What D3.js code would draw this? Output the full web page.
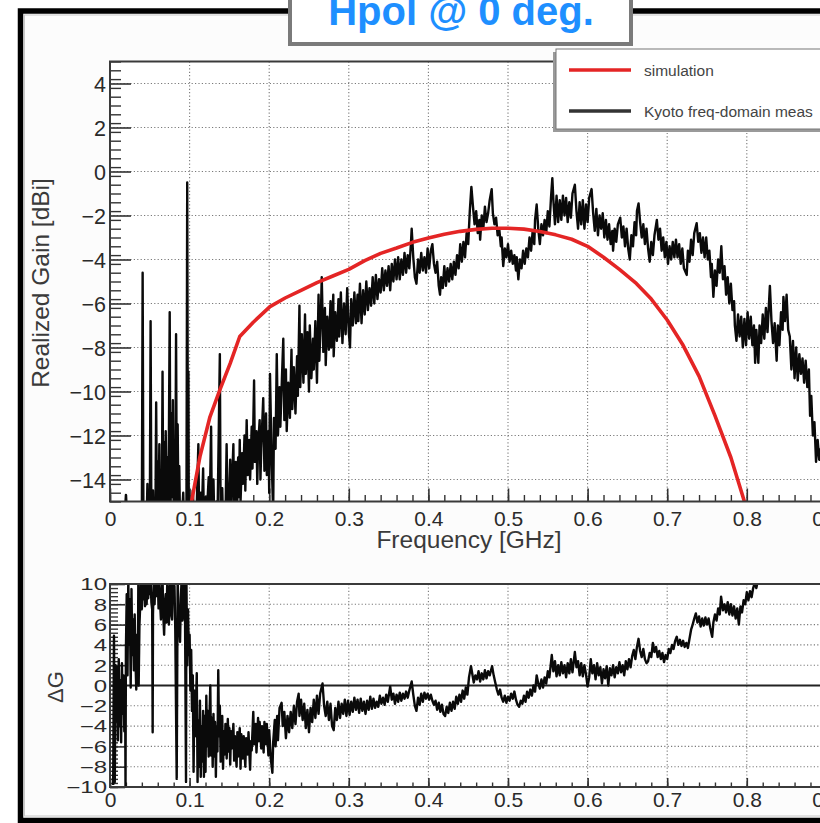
<!DOCTYPE html>
<html><head><meta charset="utf-8">
<script src="https://cdn.jsdelivr.net/npm/d3@7"></script>
<style>
body{margin:0;background:#fff}
svg{display:block}
text{font-family:"Liberation Sans",Arial,sans-serif}
</style>
</head><body>
<svg id="c" width="820" height="823"></svg>
<script>
// ---------------- data ----------------
const titleText = "Hpol @ 0 deg.";
const seriesNames = ["simulation", "Kyoto freq-domain meas"];
const xLabel = "Frequency [GHz]";
const yTopLabel = "Realized Gain [dBi]";
const yBotLabel = "ΔG";
const xTickValues = [0, 0.1, 0.2, 0.3, 0.4, 0.5, 0.6, 0.7, 0.8, 0.9, 1.0];
const yTopTickValues = [-14, -12, -10, -8, -6, -4, -2, 0, 2, 4];
const yBotTickValues = [-10, -8, -6, -4, -2, 0, 2, 4, 6, 8, 10];

// simulation [GHz, dBi]
const simulation = [
[0.1025,-15],[0.113,-12.96],[0.1256,-11.15],[0.138,-9.93],[0.151,-8.72],[0.163,-7.5],[0.18,-6.85],
[0.201,-6.14],[0.22,-5.75],[0.24,-5.4],[0.26,-5.05],[0.28,-4.75],[0.30,-4.45],[0.32,-4.05],[0.34,-3.72],
[0.36,-3.48],[0.38,-3.22],[0.40,-3.02],[0.42,-2.85],[0.44,-2.72],[0.46,-2.63],[0.48,-2.58],[0.50,-2.58],
[0.52,-2.62],[0.54,-2.73],[0.56,-2.88],[0.58,-3.08],[0.60,-3.4],[0.62,-3.9],[0.64,-4.45],[0.66,-5.05],
[0.68,-5.8],[0.70,-6.75],[0.72,-7.9],[0.74,-9.3],[0.76,-11.1],[0.78,-13.0],[0.797,-15],[0.80,-15.5]
];

// Kyoto freq-domain measurement [GHz, dBi]
const measured = [
[0.000,-16],[0.018,-16],[0.020,-14.7],[0.022,-16],
[0.040,-16],[0.041,-4.6],[0.042,-16],[0.046,-16],[0.047,-14.2],[0.048,-16],
[0.050,-16],[0.051,-6.8],[0.052,-16],[0.054,-14.5],[0.055,-16],[0.057,-16],[0.058,-10.5],[0.059,-16],
[0.060,-13.2],[0.061,-15.5],[0.062,-12.4],[0.063,-16],[0.064,-13.6],[0.065,-16],[0.066,-9.1],[0.067,-16],
[0.068,-12.3],[0.069,-15.2],[0.070,-11.8],[0.071,-16],[0.072,-13.0],[0.073,-15.5],[0.074,-12.0],[0.075,-6.4],
[0.076,-16],[0.077,-11.0],[0.078,-14.8],[0.079,-10.4],[0.080,-15.6],[0.081,-12.2],[0.082,-15.0],[0.083,-7.4],
[0.084,-16],[0.085,-11.5],[0.086,-15.5],[0.087,-13.4],[0.088,-16],[0.090,-16],[0.092,-14.6],[0.093,-16],
[0.096,-16],[0.097,-0.5],[0.098,-16],[0.0985,-9.1],[0.099,-16],
[0.102,-16],[0.104,-14.5],[0.106,-16],[0.109,-15.2],[0.111,-12.4],[0.112,-16],[0.114,-14.6],[0.115,-16],
[0.117,-13.5],[0.118,-16],[0.120,-14.8],[0.121,-16],[0.124,-13.9],[0.125,-16],[0.127,-11.6],[0.128,-16],
[0.130,-14.0],[0.131,-16],[0.134,-15.0],[0.135,-16],[0.138,-8.3],[0.139,-16],[0.141,-14.4],[0.142,-16],
[0.144,-15.2],[0.145,-16],[0.1465,-12.4],[0.148,-16],[0.150,-14.5],[0.151,-13.1],[0.152,-15.5],[0.155,-12.4],
[0.156,-15.8],[0.158,-13.2],[0.159,-15.3],[0.161,-13.0],[0.162,-14.8],[0.163,-12.2],[0.164,-15.0],[0.166,-12.8],
[0.167,-14.2],[0.169,-12.0],[0.170,-14.5],[0.1717,-11.3],[0.173,-13.8],[0.175,-12.2],[0.176,-14.0],[0.178,-11.6],
[0.179,-13.5],[0.181,-9.5],[0.182,-13.2],[0.184,-11.8],[0.185,-14.2],[0.186,-12.5],[0.188,-11.3],[0.189,-14.0],
[0.190,-12.6],[0.1925,-10.3],[0.194,-13.6],[0.196,-11.0],[0.197,-13.8],[0.199,-11.8],[0.200,-14.6],[0.201,-9.2],
[0.203,-13.0],[0.205,-15.5],[0.206,-11.2],[0.208,-12.6],[0.2095,-8.3],[0.211,-12.0],[0.213,-9.8],[0.214,-11.6],
[0.216,-9.4],[0.2177,-7.6],[0.219,-11.3],[0.221,-9.0],[0.222,-11.8],[0.224,-9.6],[0.226,-11.2],[0.228,-8.1],
[0.229,-10.8],[0.231,-8.9],[0.233,-11.0],[0.235,-8.4],[0.236,-10.2],[0.238,-6.1],[0.239,-9.8],[0.241,-7.4],
[0.243,-9.6],[0.245,-6.5],[0.246,-9.2],[0.248,-7.3],[0.250,-10.0],[0.251,-7.0],[0.253,-9.4],[0.255,-7.6],
[0.256,-9.0],[0.258,-6.8],[0.260,-9.6],[0.262,-5.6],[0.263,-8.6],[0.265,-6.4],[0.266,-4.8],[0.268,-8.2],
[0.270,-6.2],[0.271,-8.8],[0.273,-6.6],[0.275,-8.1],[0.277,-5.9],[0.278,-8.0],[0.2805,-5.6],[0.281,-8.4],
[0.283,-6.4],[0.285,-7.7],[0.287,-5.8],[0.288,-7.5],[0.290,-5.5],[0.292,-7.8],[0.294,-6.0],[0.296,-7.4],
[0.298,-5.3],[0.300,-7.3],[0.3015,-8.0],[0.303,-5.8],[0.305,-7.0],[0.307,-5.5],[0.309,-6.9],[0.311,-5.6],
[0.312,-6.8],[0.314,-5.1],[0.316,-6.9],[0.318,-5.4],[0.320,-6.5],[0.322,-5.0],[0.324,-6.3],[0.326,-5.3],
[0.328,-6.1],[0.330,-4.8],[0.332,-6.0],[0.334,-4.7],[0.336,-5.8],[0.338,-4.9],[0.340,-5.5],[0.342,-4.4],
[0.344,-5.4],[0.346,-4.5],[0.348,-5.2],[0.350,-4.3],[0.352,-5.4],[0.354,-4.2],[0.356,-5.0],[0.358,-4.0],
[0.360,-4.9],[0.362,-3.9],[0.364,-4.9],[0.366,-4.0],[0.368,-4.7],[0.370,-3.7],[0.372,-4.6],[0.374,-3.8],
[0.376,-4.4],[0.378,-3.3],[0.379,-2.6],[0.381,-3.9],[0.383,-4.8],[0.385,-5.1],[0.387,-4.0],[0.389,-4.6],
[0.391,-3.7],[0.393,-4.5],[0.395,-3.9],[0.397,-4.6],[0.399,-3.5],[0.401,-4.4],[0.403,-3.6],[0.405,-3.3],
[0.407,-4.2],[0.409,-4.6],[0.411,-4.1],[0.413,-5.2],[0.4146,-5.6],[0.416,-4.8],[0.418,-5.3],[0.420,-4.3],
[0.422,-5.2],[0.424,-4.4],[0.426,-5.0],[0.428,-4.2],[0.430,-4.9],[0.432,-4.1],[0.434,-4.7],[0.436,-3.8],
[0.438,-4.4],[0.440,-3.3],[0.442,-4.1],[0.444,-3.2],[0.446,-3.9],[0.448,-2.8],[0.450,-3.3],[0.452,-1.8],
[0.454,-0.7],[0.456,-1.6],[0.458,-2.4],[0.460,-1.8],[0.462,-2.8],[0.464,-2.2],[0.465,-3.1],[0.467,-2.0],
[0.469,-2.6],[0.471,-1.6],[0.473,-2.3],[0.475,-1.9],[0.477,-1.3],[0.4795,-0.8],[0.481,-1.9],[0.483,-2.4],
[0.485,-2.1],[0.487,-2.9],[0.489,-2.6],[0.491,-3.4],[0.492,-3.0],[0.494,-4.3],[0.496,-3.5],[0.498,-3.9],
[0.500,-3.3],[0.502,-4.1],[0.504,-3.6],[0.506,-4.2],[0.508,-3.8],[0.510,-4.5],[0.511,-3.9],[0.513,-4.9],
[0.515,-4.0],[0.517,-4.4],[0.519,-3.6],[0.521,-4.2],[0.523,-3.5],[0.525,-3.9],[0.527,-3.0],[0.529,-3.6],
[0.531,-2.7],[0.533,-3.3],[0.534,-2.2],[0.536,-1.5],[0.538,-2.6],[0.540,-3.3],[0.542,-2.4],[0.544,-2.9],
[0.546,-2.2],[0.548,-2.8],[0.550,-1.8],[0.552,-2.5],[0.554,-1.2],[0.5557,-0.3],[0.557,-1.3],[0.559,-2.4],
[0.561,-1.1],[0.563,-2.3],[0.565,-1.3],[0.567,-2.2],[0.569,-1.1],[0.571,-2.0],[0.573,-1.2],[0.575,-2.3],
[0.577,-1.4],[0.579,-2.1],[0.581,-1.0],[0.584,-0.6],[0.586,-1.8],[0.588,-2.6],[0.590,-1.4],[0.592,-2.4],
[0.594,-1.3],[0.596,-2.6],[0.598,-1.5],[0.600,-2.3],[0.602,-1.2],[0.605,-0.8],[0.607,-1.9],[0.609,-2.7],
[0.611,-1.7],[0.613,-2.9],[0.615,-2.0],[0.617,-2.6],[0.619,-1.9],[0.621,-3.0],[0.623,-2.2],[0.625,-3.1],
[0.627,-2.4],[0.629,-3.3],[0.631,-2.7],[0.632,-3.6],[0.634,-2.6],[0.636,-3.2],[0.638,-2.4],[0.641,-2.1],
[0.643,-3.0],[0.645,-2.5],[0.647,-3.4],[0.649,-2.6],[0.651,-3.5],[0.653,-4.0],[0.655,-2.9],[0.657,-3.4],
[0.659,-2.3],[0.661,-2.9],[0.662,-1.8],[0.664,-1.45],[0.666,-2.3],[0.668,-3.0],[0.670,-2.4],[0.672,-3.3],
[0.674,-2.6],[0.676,-3.5],[0.678,-4.1],[0.680,-3.2],[0.682,-3.8],[0.684,-2.9],[0.687,-2.2],[0.689,-3.1],
[0.691,-2.6],[0.693,-3.6],[0.695,-3.0],[0.697,-3.9],[0.699,-3.2],[0.701,-4.2],[0.703,-3.4],[0.705,-4.0],
[0.707,-3.2],[0.709,-3.9],[0.711,-3.1],[0.713,-3.9],[0.715,-3.3],[0.717,-4.2],[0.719,-3.5],[0.721,-4.4],
[0.7245,-4.7],[0.726,-3.6],[0.728,-4.1],[0.730,-3.1],[0.732,-3.8],[0.734,-2.8],[0.737,-2.35],[0.739,-3.2],
[0.741,-2.8],[0.743,-3.7],[0.745,-3.0],[0.747,-3.9],[0.749,-3.0],[0.751,-4.0],[0.753,-3.6],[0.755,-4.8],
[0.756,-4.2],[0.758,-5.7],[0.760,-4.5],[0.762,-5.2],[0.764,-4.0],[0.766,-4.6],[0.768,-3.4],[0.770,-4.9],
[0.772,-4.3],[0.774,-5.6],[0.776,-4.8],[0.778,-6.0],[0.780,-5.1],[0.782,-6.3],[0.784,-5.9],[0.785,-7.0],
[0.787,-7.7],[0.789,-6.5],[0.791,-7.5],[0.793,-6.6],[0.795,-8.0],[0.797,-6.7],[0.799,-7.9],[0.801,-6.4],
[0.803,-7.6],[0.805,-6.6],[0.807,-7.9],[0.809,-7.0],[0.8105,-8.7],[0.812,-7.2],[0.8145,-8.7],[0.816,-7.0],
[0.818,-7.8],[0.820,-6.5],[0.822,-7.6],[0.824,-6.2],[0.826,-7.3],[0.829,-5.2],[0.831,-6.8],[0.833,-7.8],
[0.835,-6.9],[0.8375,-8.6],[0.839,-7.0],[0.841,-7.9],[0.843,-6.4],[0.845,-7.2],[0.846,-5.7],[0.848,-6.8],
[0.850,-5.6],[0.852,-7.2],[0.854,-7.5],[0.856,-9.0],[0.858,-7.7],[0.860,-9.4],[0.862,-8.0],[0.864,-9.5],
[0.866,-8.3],[0.868,-9.2],[0.870,-8.5],[0.872,-9.6],[0.874,-8.6],[0.876,-9.8],[0.878,-9.0],[0.8795,-11.1],
[0.881,-10.2],[0.883,-12.0],[0.885,-11.4],[0.887,-13.2],[0.889,-12.2],[0.891,-13.1],[0.893,-12.6],[0.900,-13.5]
];

// ΔG = measurement - simulation [GHz, dB]
const deltaG = [
[0.004,-9.8],[0.005,4.9],[0.006,-9.5],[0.007,2.0],[0.008,-3.5],[0.009,1.8],[0.010,-5.4],[0.011,2.6],
[0.012,-4.0],[0.013,0.5],[0.014,-5.6],[0.015,2.2],[0.016,-2.8],[0.017,1.0],[0.018,-4.5],[0.019,-0.3],
[0.0195,-10],[0.020,3.5],[0.021,9.0],[0.022,1.0],[0.023,10.5],[0.024,4.0],[0.025,8.5],[0.026,-0.2],
[0.027,9.5],[0.028,3.0],[0.029,6.5],[0.030,1.5],[0.031,7.0],[0.032,2.5],[0.033,-0.4],[0.034,5.0],
[0.035,1.0],[0.0356,10.5],[0.036,0.0],[0.037,6.0],[0.038,8.0],[0.039,10.5],[0.040,7.5],[0.041,10.5],
[0.042,8.5],[0.043,10.5],[0.044,7.8],[0.045,10.5],[0.046,8.0],[0.047,10.5],[0.048,8.6],[0.049,10.5],
[0.050,9.0],[0.051,10.5],[0.052,8.2],[0.053,7.5],[0.0536,-4.6],[0.054,7.0],[0.055,10.5],
[0.056,8.0],[0.057,10.5],[0.058,8.8],[0.059,9.5],[0.060,10.5],[0.061,7.6],[0.062,10.5],[0.063,8.0],
[0.064,6.5],[0.065,9.0],[0.066,10.5],[0.067,6.8],[0.068,5.0],[0.069,8.0],[0.070,9.0],[0.071,6.2],
[0.072,10.5],[0.073,7.8],[0.074,6.0],[0.075,9.4],[0.076,10.5],[0.077,7.0],[0.078,6.5],[0.079,10.5],
[0.080,8.5],[0.081,9.8],[0.082,5.5],[0.0838,-9.2],[0.085,10.5],[0.086,7.4],[0.087,6.0],[0.088,4.3],
[0.089,8.6],[0.090,10.5],[0.091,6.4],[0.092,7.0],[0.093,9.8],[0.094,10.5],[0.0955,-9.5],[0.096,10.5],
[0.097,2.0],[0.098,7.5],[0.099,3.0],[0.100,5.0],[0.101,-0.5],[0.102,3.5],[0.103,-2.5],[0.104,1.0],
[0.105,-8.5],[0.106,-0.5],[0.107,-5.0],[0.108,-2.0],[0.109,1.2],[0.110,-9.5],[0.111,-3.5],[0.112,-8.0],
[0.113,-1.5],[0.114,-9.0],[0.115,-4.0],[0.116,-7.5],[0.117,-2.5],[0.118,-9.0],[0.119,-3.0],[0.120,-8.5],
[0.121,-1.0],[0.122,-6.0],[0.123,-2.5],[0.124,-7.0],[0.125,-3.0],[0.126,0.0],[0.127,-6.9],[0.128,-3.2],
[0.129,-8.0],[0.130,-2.8],[0.131,-7.0],[0.132,-3.6],[0.133,-9.0],[0.134,-4.0],[0.135,-6.5],[0.136,1.5],
[0.137,-5.0],[0.138,-2.0],[0.139,-7.5],[0.140,-5.7],[0.141,-3.0],[0.142,-8.2],[0.143,-4.5],[0.144,-6.8],
[0.145,-3.8],[0.1466,-7.2],[0.148,-3.3],[0.149,-6.5],[0.150,-4.2],[0.151,-7.8],[0.152,-4.5],[0.153,-6.2],
[0.155,-3.8],[0.156,-7.4],[0.157,-5.0],[0.159,-8.0],[0.160,-4.6],[0.161,-7.0],[0.163,-4.2],[0.164,-8.2],
[0.165,-4.8],[0.167,-7.2],[0.168,-5.0],[0.170,-8.0],[0.171,-5.2],[0.173,-6.8],[0.174,-4.6],[0.176,-8.3],
[0.177,-5.5],[0.178,-6.4],[0.180,-2.6],[0.181,-5.8],[0.183,-3.8],[0.184,-6.6],[0.186,-3.2],[0.187,-5.5],
[0.188,-3.6],[0.190,-6.2],[0.191,-4.0],[0.193,-6.6],[0.194,-3.6],[0.196,-5.8],[0.197,-3.8],[0.199,-6.9],
[0.200,-4.4],[0.202,-7.2],[0.204,-8.6],[0.205,-5.6],[0.207,-3.4],[0.208,-6.0],[0.210,-3.0],[0.211,-5.4],
[0.213,-2.2],[0.2156,-1.7],[0.217,-4.0],[0.219,-2.6],[0.221,-5.2],[0.223,-3.0],[0.225,-4.6],[0.227,-2.6],
[0.229,-4.2],[0.231,-2.0],[0.233,-3.8],[0.235,-1.6],[0.237,-0.8],[0.238,-3.0],[0.240,-1.4],[0.242,-3.4],
[0.244,-1.8],[0.246,-4.2],[0.248,-2.4],[0.250,-4.6],[0.252,-2.2],[0.254,-3.6],[0.256,-1.4],[0.258,-3.2],
[0.260,-1.0],[0.262,-2.8],[0.264,-0.8],[0.267,0.2],[0.269,-2.0],[0.271,-3.0],[0.273,-1.6],[0.275,-3.4],
[0.277,-1.8],[0.279,-4.0],[0.281,-4.4],[0.283,-2.2],[0.285,-3.4],[0.287,-1.6],[0.289,-3.2],[0.291,-1.8],
[0.293,-2.8],[0.295,-1.4],[0.297,-3.0],[0.299,-1.5],[0.301,-2.9],[0.303,-1.6],[0.305,-2.6],[0.307,-1.2],
[0.309,-2.4],[0.311,-1.4],[0.313,-2.7],[0.315,-1.3],[0.317,-2.5],[0.319,-1.6],[0.321,-2.8],[0.323,-1.5],
[0.325,-2.4],[0.327,-1.1],[0.329,-2.3],[0.331,-1.3],[0.333,-2.2],[0.335,-1.6],[0.337,-2.1],[0.339,-1.0],
[0.341,-1.8],[0.343,-1.2],[0.345,-1.9],[0.347,-0.9],[0.349,-1.6],[0.352,-0.1],[0.354,-1.4],[0.356,-0.8],
[0.358,-1.8],[0.360,-0.9],[0.362,-1.6],[0.364,-0.7],[0.366,-1.5],[0.368,-0.8],[0.370,-1.3],[0.372,-0.6],
[0.374,-1.2],[0.376,-0.5],[0.379,0.4],[0.381,-0.9],[0.383,-2.0],[0.385,-2.5],[0.387,-1.2],[0.389,-1.9],
[0.391,-0.8],[0.393,-1.6],[0.395,-0.7],[0.397,-1.3],[0.399,-0.8],[0.401,-1.4],[0.403,-0.9],[0.405,-1.5],
[0.407,-1.9],[0.409,-1.5],[0.411,-2.4],[0.413,-1.7],[0.415,-2.6],[0.417,-1.9],[0.419,-2.8],[0.421,-3.0],
[0.423,-2.1],[0.425,-2.7],[0.427,-1.7],[0.429,-2.5],[0.431,-1.6],[0.433,-2.3],[0.435,-1.1],[0.437,-1.8],
[0.439,-0.9],[0.441,-1.6],[0.443,-0.5],[0.445,-1.3],[0.447,-0.2],[0.449,-0.9],[0.451,0.8],[0.4535,1.9],
[0.455,1.2],[0.457,0.3],[0.459,1.0],[0.461,0.6],[0.463,1.4],[0.465,0.4],[0.467,1.2],[0.469,0.6],
[0.471,1.5],[0.473,0.7],[0.475,1.4],[0.477,1.0],[0.480,1.9],[0.482,1.0],[0.484,0.3],[0.486,-0.4],
[0.488,-0.9],[0.490,-0.4],[0.492,-1.2],[0.494,-1.6],[0.496,-1.0],[0.498,-1.7],[0.500,-1.1],[0.502,-1.5],
[0.504,-0.8],[0.506,-1.3],[0.508,-0.6],[0.510,-1.4],[0.512,-1.9],[0.514,-2.1],[0.516,-1.5],[0.518,-1.8],
[0.520,-1.0],[0.522,-1.6],[0.524,-0.6],[0.526,-1.2],[0.528,-0.4],[0.530,-1.0],[0.532,0.0],[0.534,-0.6],
[0.536,1.0],[0.538,0.2],[0.540,-0.3],[0.542,0.6],[0.544,-0.2],[0.546,0.8],[0.548,0.2],[0.550,1.4],
[0.552,0.8],[0.555,3.0],[0.557,1.4],[0.559,2.4],[0.561,0.9],[0.563,2.0],[0.565,1.0],[0.567,2.3],
[0.569,1.2],[0.571,2.0],[0.573,0.8],[0.575,2.2],[0.577,1.2],[0.579,2.6],[0.581,1.3],[0.584,3.3],
[0.586,1.8],[0.588,2.4],[0.590,1.0],[0.592,2.2],[0.594,0.9],[0.596,2.0],[0.598,1.1],[0.600,-0.1],
[0.602,0.8],[0.604,2.6],[0.606,1.2],[0.608,2.0],[0.610,0.6],[0.612,2.2],[0.614,1.0],[0.616,1.8],
[0.618,0.2],[0.620,1.6],[0.622,0.7],[0.624,1.9],[0.626,0.0],[0.628,1.7],[0.630,1.0],[0.632,2.0],
[0.634,0.8],[0.636,1.8],[0.638,1.2],[0.640,2.3],[0.642,1.3],[0.644,2.0],[0.646,1.0],[0.648,2.4],
[0.650,1.6],[0.652,2.6],[0.654,1.8],[0.656,2.9],[0.658,3.5],[0.660,2.6],[0.662,3.8],[0.664,4.6],
[0.666,3.4],[0.668,2.8],[0.670,3.6],[0.672,2.6],[0.674,2.2],[0.676,2.4],[0.678,3.2],[0.680,2.8],
[0.682,4.2],[0.684,3.3],[0.686,3.8],[0.688,2.8],[0.690,3.4],[0.692,2.6],[0.694,3.2],[0.696,2.3],
[0.698,3.0],[0.700,2.6],[0.702,3.6],[0.704,3.2],[0.706,4.0],[0.708,3.6],[0.710,4.4],[0.712,4.8],
[0.714,4.0],[0.716,4.5],[0.718,3.9],[0.720,4.4],[0.722,3.8],[0.724,4.2],[0.726,3.7],[0.728,4.6],
[0.730,5.5],[0.732,6.0],[0.734,6.6],[0.736,7.1],[0.738,6.2],[0.740,6.8],[0.742,5.8],[0.744,6.6],
[0.746,5.9],[0.748,6.7],[0.750,6.0],[0.752,6.6],[0.754,5.7],[0.7565,4.8],[0.758,6.2],[0.760,7.0],
[0.762,6.4],[0.764,7.6],[0.766,7.0],[0.7677,8.75],[0.770,7.4],[0.772,8.0],[0.774,7.2],[0.776,8.2],
[0.778,7.0],[0.780,8.0],[0.782,6.9],[0.784,7.8],[0.786,6.6],[0.788,7.6],[0.790,6.0],[0.792,7.8],
[0.794,7.2],[0.796,8.4],[0.798,8.0],[0.800,9.2],[0.802,8.4],[0.804,9.3],[0.806,8.7],[0.808,9.6],
[0.810,10.1],[0.812,9.6],[0.814,10.4],[0.820,11],[0.900,11]
];

// ---------------- drawing ----------------
const svg = d3.select("#c");
const W = 820, H = 823;
const fmt = v => d3.format("~g")(v).replace("-", "\u2212");

const x = d3.scaleLinear().domain([0, 1]).range([110, 906]);
const yT = d3.scaleLinear().domain([-15, 5]).range([501.5, 61.5]);
const yB = d3.scaleLinear().domain([-10, 10]).range([787, 584]);

// page background + outer frame
svg.append("rect").attr("width", W).attr("height", H).attr("fill", "#fff");
svg.append("rect").attr("x", 20.5).attr("y", 11).attr("width", 830).attr("height", 809.5)
  .attr("fill", "#fcfcfc").attr("stroke", "#000").attr("stroke-width", 5.5);
svg.append("rect").attr("x", 24.5).attr("y", 15).attr("width", 830).attr("height", 801)
  .attr("fill", "none").attr("stroke", "#c8c8c8").attr("stroke-width", 1);

const defs = svg.append("defs");
defs.append("clipPath").attr("id", "clipT").append("rect")
  .attr("x", 110).attr("y", 61.5).attr("width", 796).attr("height", 440);
defs.append("clipPath").attr("id", "clipB").append("rect")
  .attr("x", 110).attr("y", 584).attr("width", 796).attr("height", 203);

function panel(y, yTicks, minorStep, majLenY, minLenY, majLenX, minLenX, gridY) {
  const g = svg.append("g");
  g.append("rect").attr("x", 110).attr("y", y.range()[1]).attr("width", 796)
    .attr("height", y.range()[0] - y.range()[1]).attr("fill", "#fff");
  const grid = g.append("g").attr("stroke", "#7a7a7a").attr("stroke-width", 1.1)
    .attr("stroke-dasharray", "1.2,2.2");
  grid.selectAll("line.v").data(xTickValues.slice(1)).join("line")
    .attr("x1", d => x(d)).attr("x2", d => x(d))
    .attr("y1", y.range()[1]).attr("y2", y.range()[0]);
  grid.selectAll("line.h").data(gridY).join("line")
    .attr("x1", 110).attr("x2", 906).attr("y1", d => y(d)).attr("y2", d => y(d));
  const minorY = d3.range(y.domain()[0], y.domain()[1] + 1e-9, minorStep);
  g.append("g").attr("transform", "translate(110,0)")
    .call(d3.axisLeft(y).tickValues(minorY).tickSize(-minLenY).tickFormat(""))
    .call(a => a.select(".domain").remove())
    .call(a => a.selectAll("line").attr("stroke", "#333").attr("stroke-width", 1.4));
  const yax = g.append("g").attr("transform", "translate(110,0)")
    .call(d3.axisLeft(y).tickValues(yTicks).tickSize(-majLenY).tickPadding(4).tickFormat(fmt))
    .call(a => a.select(".domain").remove())
    .call(a => a.selectAll("line").attr("stroke", "#333").attr("stroke-width", 1.6));
  const base = y.range()[0];
  const minorX = d3.range(0, 1.0001, 0.02);
  g.append("g").attr("transform", `translate(0,${base})`)
    .call(d3.axisBottom(x).tickValues(minorX).tickSize(-minLenX).tickFormat(""))
    .call(a => a.select(".domain").remove())
    .call(a => a.selectAll("line").attr("stroke", "#333").attr("stroke-width", 1.4));
  const xax = g.append("g").attr("transform", `translate(0,${base})`)
    .call(d3.axisBottom(x).tickValues(xTickValues).tickSize(-majLenX).tickFormat(fmt))
    .call(a => a.select(".domain").remove())
    .call(a => a.selectAll("line").attr("stroke", "#333").attr("stroke-width", 1.6));
  return {g, yax, xax};
}

// ---- top panel ----
const topPanel = panel(yT, yTopTickValues, 0.4, 21, 11, 13, 6.5, [-14,-12,-10,-8,-6,-4,-2,0,2,4]);
topPanel.yax.selectAll("text").attr("font-size", 21.5).attr("fill", "#2a2a2a").attr("x", -4).attr("dy", "0.36em");
topPanel.xax.selectAll("text").attr("font-size", 21).attr("fill", "#2a2a2a").attr("y", 9).attr("dy", "0.74em");

const lineT = d3.line().x(d => x(d[0])).y(d => yT(d[1]));
const plotT = svg.append("g").attr("clip-path", "url(#clipT)");
plotT.append("path").datum(measured).attr("d", lineT)
  .attr("fill", "none").attr("stroke", "#0a0a0a").attr("stroke-width", 2.4).attr("stroke-linejoin", "round");
plotT.append("path").datum(simulation).attr("d", lineT)
  .attr("fill", "none").attr("stroke", "#e42525").attr("stroke-width", 3.6).attr("stroke-linejoin", "round");
svg.append("path").attr("d", "M906,61.5H110V501.5H906").attr("fill", "none")
  .attr("stroke", "#3a3a3a").attr("stroke-width", 2);

// ---- bottom panel ----
const botPanel = panel(yB, yBotTickValues, 0.4, 15, 8, 9, 4.5, [-8,-6,-4,-2,2,4,6,8]);
botPanel.yax.selectAll("text").attr("font-size", 24).attr("fill", "#2a2a2a").attr("x", -3).attr("dy", "0.36em")
  .attr("transform", "scale(1,0.68)");
botPanel.xax.selectAll("text").attr("font-size", 21).attr("fill", "#2a2a2a").attr("y", 4).attr("dy", "0.74em");

const lineB = d3.line().x(d => x(d[0])).y(d => yB(d[1]));
const plotB = svg.append("g").attr("clip-path", "url(#clipB)");
plotB.append("line").attr("x1", 110).attr("x2", 906).attr("y1", yB(0)).attr("y2", yB(0))
  .attr("stroke", "#222").attr("stroke-width", 2.2);
plotB.append("path").datum(deltaG).attr("d", lineB)
  .attr("fill", "none").attr("stroke", "#0a0a0a").attr("stroke-width", 2.4).attr("stroke-linejoin", "round");
svg.append("path").attr("d", "M906,584H110V787H906").attr("fill", "none")
  .attr("stroke", "#3a3a3a").attr("stroke-width", 2);

// ---- axis titles ----
svg.append("text").attr("x", 469).attr("y", 548).attr("text-anchor", "middle")
  .attr("font-size", 24.5).attr("fill", "#3a3a3a").text(xLabel);
svg.append("text").attr("transform", "translate(49,283) rotate(-90)").attr("text-anchor", "middle")
  .attr("font-size", 24.5).attr("fill", "#3a3a3a").text(yTopLabel);
svg.append("text").attr("transform", "translate(63,687) rotate(-90)").attr("text-anchor", "middle")
  .attr("font-size", 22).attr("fill", "#3a3a3a").text(yBotLabel);

// ---- legend ----
const leg = svg.append("g");
leg.append("rect").attr("x", 553).attr("y", 52).attr("width", 300).attr("height", 80).attr("fill", "#9a9a9a");
leg.append("rect").attr("x", 556).attr("y", 49).attr("width", 300).attr("height", 80)
  .attr("fill", "#fff").attr("stroke", "#777").attr("stroke-width", 1);
const legColors = ["#e42525", "#333"];
const legY = [70, 111];
seriesNames.forEach((n, i) => {
  leg.append("line").attr("x1", 569).attr("x2", 631).attr("y1", legY[i]).attr("y2", legY[i])
    .attr("stroke", legColors[i]).attr("stroke-width", 3.5);
  leg.append("text").attr("x", 644).attr("y", legY[i] + 5.5).attr("font-size", 15.5)
    .attr("fill", "#444").text(n);
});

// ---- title box ----
svg.append("rect").attr("x", 290).attr("y", -10).attr("width", 341).attr("height", 54)
  .attr("fill", "#fff").attr("stroke", "#7a7a7a").attr("stroke-width", 4);
svg.append("text").attr("x", 461).attr("y", 25).attr("text-anchor", "middle")
  .attr("font-family", "Roboto, 'Liberation Sans', sans-serif").attr("font-weight", 700)
  .attr("font-size", 40).attr("fill", "#1e8fff").text(titleText);
</script>
</body></html>
